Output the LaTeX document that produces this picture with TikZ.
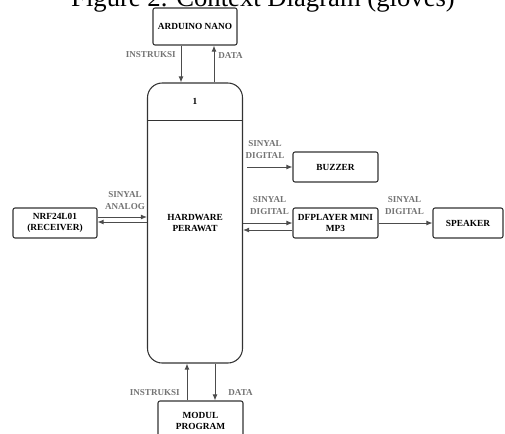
\documentclass[tikz,border=0pt]{standalone}
\usepackage{fontspec}
\setmainfont{Liberation Serif}
\usetikzlibrary{arrows.meta}
\begin{document}
\begin{tikzpicture}[x=0.75pt,y=-0.75pt,>={Latex[length=4.5pt,width=3.6pt]},
    box/.style={draw=black!80,line width=0.8pt,rounded corners=1.5pt,align=center,inner sep=1pt,
        font=\fontsize{7}{8.5}\selectfont\bfseries},
    lbl/.style={text=black!55,inner sep=0pt,align=center,font=\fontsize{6.8}{9}\selectfont\bfseries},
    flow/.style={draw=black!70,line width=0.6pt}]
    \useasboundingbox (0,0) rectangle (505,433);
    \node[anchor=base,font=\fontsize{20}{24}\selectfont] (title) at (263,6) {Figure 2. Context Diagram (gloves)};
    % process
    \node[box,minimum width=71.25pt,minimum height=210pt,rounded corners=11pt] (proc) at (195,223) {HARDWARE\\PERAWAT};
    \draw[black!80,line width=0.8pt] ([yshift=-28.5pt]proc.north west) -- ([yshift=-28.5pt]proc.north east);
    \node[font=\fontsize{7}{8.5}\selectfont\bfseries] (pid) at (195,101) {1};
    % entities
    \node[box,minimum width=63pt,minimum height=27.75pt] (arduino) at (195,26.5) {ARDUINO NANO};
    \node[box,minimum width=63.75pt,minimum height=30pt] (modul) at (200.5,421) {MODUL\\PROGRAM};
    \node[box,minimum width=63pt,minimum height=22.5pt] (nrf) at (55,223) {NRF24L01\\(RECEIVER)};
    \node[box,minimum width=63.75pt,minimum height=22.5pt] (buzzer) at (335.5,167) {BUZZER};
    \node[box,minimum width=63.75pt,minimum height=22.5pt] (dfplayer) at (335.5,223) {DFPLAYER MINI\\MP3};
    \node[box,minimum width=52.5pt,minimum height=22.5pt] (speaker) at (468,223) {SPEAKER};
    % flows
    \coordinate (insA) at ([xshift=-10.5pt]arduino.south);
    \coordinate (datA) at ([xshift=14.25pt]arduino.south);
    \draw[flow,->] (insA) -- (insA |- proc.north);
    \draw[flow,->] (datA |- proc.north) -- (datA);
    \coordinate (insB) at ([xshift=-10.125pt]modul.north);
    \coordinate (datB) at ([xshift=10.875pt]modul.north);
    \draw[flow,->] (insB) -- (insB |- proc.south);
    \draw[flow,->] (datB |- proc.south) -- (datB);
    \coordinate (nrfOut) at ([yshift=4.5pt]nrf.east);
    \coordinate (nrfIn) at ([yshift=0.75pt]nrf.east);
    \draw[flow,->] (nrfOut) -- (nrfOut -| proc.west);
    \draw[flow,->] (nrfIn -| proc.west) -- (nrfIn);
    \coordinate (bzstart) at (247,167);
    \draw[flow,->] (bzstart) -- (buzzer.west);
    \coordinate (dfIn) at (dfplayer.west);
    \coordinate (dfOut) at ([yshift=-5.25pt]dfplayer.west);
    \draw[flow,->] (dfIn -| proc.east) -- (dfIn);
    \draw[flow,->] (dfOut) -- (dfOut -| proc.east);
    \draw[flow,->] (dfplayer.east) -- (speaker.west);
    % labels
    \node[lbl,anchor=east] (lInsA) at (176,55) {INSTRUKSI};
    \node[lbl] (lDatA) at (230.5,56) {DATA};
    \node[lbl,anchor=east] (lInsB) at (180,393) {INSTRUKSI};
    \node[lbl] (lDatB) at (240.5,393) {DATA};
    \node[lbl] (lAnalog) at (125,201) {SINYAL\\ANALOG};
    \node[lbl] (lBuzz) at (265,150) {SINYAL\\DIGITAL};
    \node[lbl] (lDf) at (269.5,206) {SINYAL\\DIGITAL};
    \node[lbl] (lSpk) at (404.5,206) {SINYAL\\DIGITAL};
\end{tikzpicture}
\end{document}
